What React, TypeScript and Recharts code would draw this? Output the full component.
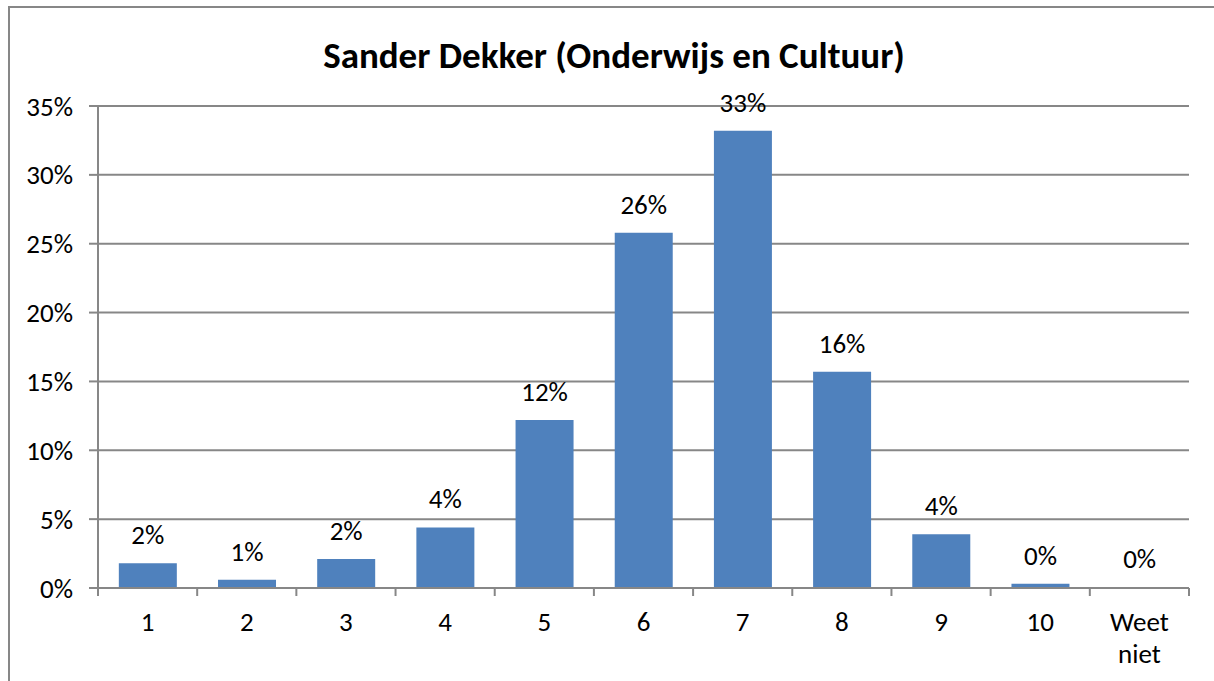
import React from 'react';
import { BarChart, Bar, XAxis, YAxis, CartesianGrid, LabelList, Cell } from 'recharts';

// rapportcijfers, aandeel respondenten in %
const categories = ['1', '2', '3', '4', '5', '6', '7', '8', '9', '10', 'Weet niet'];
const shares = [1.8, 0.6, 2.1, 4.4, 12.2, 25.8, 33.2, 15.7, 3.9, 0.3, 0];
const yTicks = [0, 5, 10, 15, 20, 25, 30, 35];
const title = 'Sander Dekker (Onderwijs en Cultuur)';

const data = categories.map((category, i) => ({ category, value: shares[i] }));

const FONT = 'Carlito, Lato, "Open Sans", sans-serif';
const GREY = '#878787';
const BLUE = '#4F81BD';

const CategoryTick = (props: any) => {
    const { x, y, payload, index, width, visibleTicksCount } = props;
    const band = width / visibleTicksCount;
    const left = x - band / 2;
    const lines = String(payload.value).split(' ');
    return (
        <g>
            <line x1={left} x2={left} y1={y} y2={y + 8} stroke={GREY} strokeWidth={2} />
            {index === visibleTicksCount - 1 && (
                <line x1={x + band / 2} x2={x + band / 2} y1={y} y2={y + 8} stroke={GREY} strokeWidth={2} />
            )}
            {lines.map((line, i) => (
                <text key={i} x={x} y={y + 43 + i * 32} textAnchor="middle" fill="#000" fontSize={27} fontFamily={FONT}>
                    {line}
                </text>
            ))}
        </g>
    );
};

const App: React.FC = () => {
    return (
        <div style={{ position: 'fixed', left: 0, top: 0, width: 1214, height: 681, overflow: 'hidden', background: '#fff' }}>
            <div style={{ position: 'absolute', left: 8, top: 6, width: 1300, height: 800, border: `2px solid ${GREY}` }} />
            <div
                style={{
                    position: 'absolute', left: 0, top: 35, width: 1228, textAlign: 'center',
                    fontFamily: FONT, fontWeight: 700, fontSize: 37, lineHeight: '42px', color: '#000',
                }}
            >
                {title}
            </div>
            <div style={{ position: 'absolute', left: 0, top: 0 }}>
                <BarChart
                    width={1214}
                    height={681}
                    data={data}
                    margin={{ top: 106, right: 25, left: 0, bottom: 13 }}
                    barCategoryGap="21%"
                >
                    <CartesianGrid vertical={false} stroke={GREY} strokeWidth={2} />
                    <XAxis
                        dataKey="category"
                        interval={0}
                        height={80}
                        tick={<CategoryTick />}
                        tickLine={false}
                        tickSize={0}
                        tickMargin={0}
                        axisLine={{ stroke: GREY, strokeWidth: 2 }}
                    />
                    <YAxis
                        width={98}
                        domain={[0, 35]}
                        ticks={yTicks}
                        interval={0}
                        tickFormatter={(v: number) => `${v}%`}
                        tick={{ fill: '#000', fontSize: 27, fontFamily: FONT }}
                        tickSize={9}
                        tickMargin={16}
                        tickLine={{ stroke: GREY, strokeWidth: 2 }}
                        axisLine={{ stroke: GREY, strokeWidth: 2 }}
                    />
                    <Bar dataKey="value" fill={BLUE} minPointSize={1} isAnimationActive={false}>
                        {data.map((d, i) => (
                            <Cell key={i} fill={d.value > 0 ? BLUE : 'transparent'} />
                        ))}
                        <LabelList
                            dataKey="value"
                            position="top"
                            offset={19}
                            formatter={(v: any) => `${Math.round(Number(v))}%`}
                            fill="#000"
                            fontSize={27}
                            fontFamily={FONT}
                        />
                    </Bar>
                </BarChart>
            </div>
        </div>
    );
};

export default App;
